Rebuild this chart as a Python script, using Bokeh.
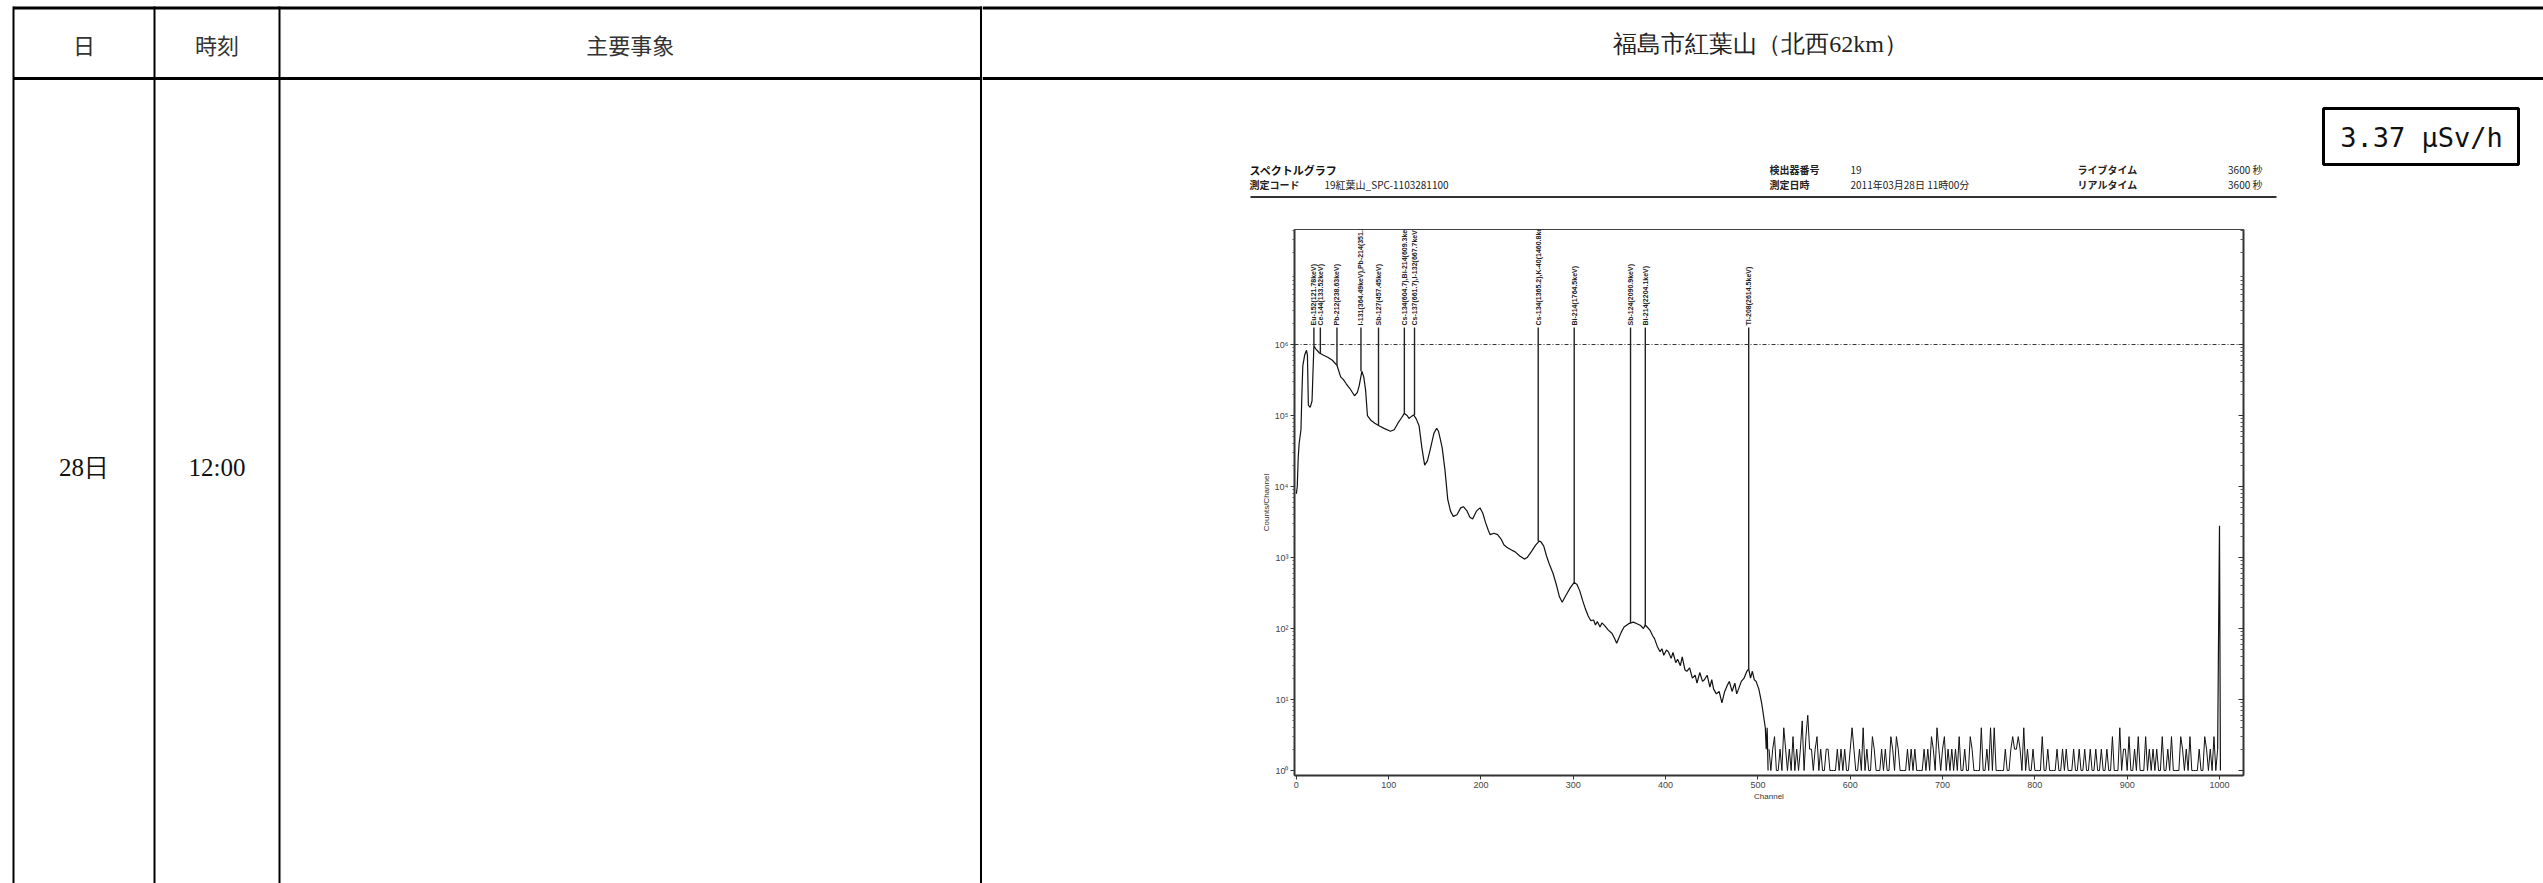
import math
from bokeh.plotting import figure
from bokeh.layouts import row, column
from bokeh.models import ColumnDataSource, Range1d, FixedTicker, LogAxis, Span, LabelSet
from bokeh.core.properties import value
from bokeh.embed import file_html
from bokeh.resources import INLINE

# ---------------- table texts ----------------
header_labels = ["日", "時刻", "主要事象", "福島市紅葉山（北西62km）"]
day_label = "28日"
time_label = "12:00"
dose_label = "3.37 μSv/h"

# ---------------- spectrum sheet texts ----------------
spec_title = "スペクトルグラフ"
info_keys = ["測定コード", "検出器番号", "測定日時", "ライブタイム", "リアルタイム"]
info_vals = ["19紅葉山_SPC-1103281100", "19", "2011年03月28日 11時00分", "3600 秒", "3600 秒"]

x_ticks = [0, 100, 200, 300, 400, 500, 600, 700, 800, 900, 1000]
y_ticks = [1, 10, 100, 1000, 10000, 100000, 1000000]
y_tick_labels = ["10⁰", "10¹", "10²", "10³", "10⁴", "10⁵", "10⁶"]
x_axis_title = "Channel"
y_axis_title = "Counts/Channel"

# ---------------- spectrum values (counts per channel) ----------------
spec_ch = [0, 1, 2, 3, 5, 6, 7, 9, 11, 12,
           13, 15, 17, 18, 19, 21, 25, 29, 34, 39,
           44, 48, 51, 54, 58, 63, 66, 68, 71, 73,
           75, 77, 81, 85, 90, 95, 102, 106, 110, 114,
           117, 120, 122, 125, 127, 130, 133, 136, 139, 142,
           145, 149, 152, 154, 156, 158, 161, 164, 167, 170,
           174, 178, 181, 185, 188, 191, 195, 199, 202, 205,
           208, 210, 214, 218, 222, 225, 228, 232, 237, 242,
           247, 250, 255, 259, 263, 265, 268, 271, 274, 278,
           282, 285, 288, 290, 293, 297, 301, 304, 307, 310,
           313, 316, 319, 322, 324, 326, 329, 331, 334, 338,
           342, 345, 347, 349, 352, 355, 360, 365, 369, 373,
           376, 378, 380, 383, 386, 388, 391, 394, 396, 398,
           401, 403, 406, 408, 411, 413, 416, 418, 421, 423,
           426, 429, 432, 434, 437, 440, 442, 445, 448, 450,
           452, 455, 458, 461, 464, 467, 469, 472, 475, 477,
           479, 482, 485, 488, 490, 492, 494, 496, 498, 501,
           504, 506, 508, 509, 510, 511]
spec_cnt = [7.9e3, 1.0e4, 2.5e4, 4.0e4, 6.3e4, 2.0e5, 5.0e5, 7.1e5, 8.3e5, 7.1e5,
            1.4e5, 1.3e5, 1.6e5, 4.0e5, 9.6e5, 8.7e5, 7.6e5, 7.1e5, 6.6e5, 6.0e5,
            5.1e5, 3.5e5, 3.2e5, 2.8e5, 2.4e5, 1.9e5, 2.1e5, 2.6e5, 4.2e5, 3.5e5,
            2.3e5, 1.0e5, 8.5e4, 7.8e4, 7.1e4, 6.6e4, 6.0e4, 6.3e4, 7.8e4, 9.3e4,
            1.07e5, 1.0e5, 9.1e4, 9.8e4, 1.02e5, 8.9e4, 7.1e4, 3.5e4, 2.0e4, 2.3e4,
            3.3e4, 5.6e4, 6.6e4, 6.0e4, 4.6e4, 3.5e4, 1.7e4, 6.6e3, 4.5e3, 3.8e3,
            4.0e3, 5.0e3, 5.2e3, 4.5e3, 3.7e3, 3.5e3, 4.5e3, 5.0e3, 4.2e3, 3.1e3,
            2.4e3, 2.1e3, 2.2e3, 2.1e3, 1.8e3, 1.5e3, 1.4e3, 1.3e3, 1.2e3, 1.05e3,
            950, 1000, 1230, 1480, 1700, 1660, 1450, 1050, 810, 600,
            400, 280, 235, 263, 309, 380, 447, 417, 339, 251,
            191, 151, 129, 132, 112, 126, 105, 120, 110, 95,
            85, 71, 62, 72, 89, 105, 117, 123, 117, 110,
            100, 112, 105, 95, 79, 72, 56, 47, 52, 42,
            50, 47, 38, 46, 33, 37, 30, 40, 26, 25,
            28, 20, 22, 17, 24, 18, 19, 22, 15, 19,
            14, 12, 13, 9, 13, 16, 18, 13, 17, 12,
            14, 18, 20, 25, 27, 20, 25, 19, 18, 14,
            9, 6, 4, 2, 4, 1]

# channels 512..998, every second channel
noise_start, noise_step = 512, 2
noise_cnt = [2, 1, 2, 3, 1, 1, 2, 1, 4, 2, 1, 2, 1, 3, 1, 2, 1, 2, 5, 1, 3, 6, 2, 2, 1,
             2, 3, 1, 2, 1, 1, 2, 2, 1, 1, 1, 1, 2, 1, 2, 1, 2, 1, 1, 2, 4, 2, 1, 1, 2,
             1, 4, 1, 2, 1, 1, 3, 2, 1, 1, 1, 2, 1, 2, 1, 1, 3, 2, 1, 3, 2, 1, 1, 1, 1,
             2, 1, 2, 1, 2, 1, 1, 1, 1, 2, 1, 2, 1, 3, 2, 1, 4, 2, 1, 2, 3, 1, 2, 1, 2,
             1, 2, 1, 3, 1, 1, 2, 1, 1, 3, 2, 1, 1, 1, 1, 4, 1, 1, 2, 1, 4, 1, 4, 1, 1,
             1, 1, 1, 2, 1, 1, 2, 3, 2, 2, 3, 2, 1, 4, 1, 2, 1, 1, 2, 1, 1, 1, 1, 3, 1,
             1, 2, 1, 1, 1, 1, 2, 1, 1, 2, 1, 2, 1, 1, 1, 2, 1, 1, 2, 1, 1, 2, 1, 1, 2,
             1, 1, 2, 1, 1, 2, 1, 1, 2, 1, 1, 3, 1, 1, 1, 4, 1, 2, 2, 1, 3, 1, 1, 2, 1,
             3, 1, 1, 1, 3, 1, 2, 1, 2, 1, 2, 1, 1, 3, 1, 1, 2, 1, 3, 1, 1, 1, 1, 3, 2,
             1, 2, 1, 3, 1, 1, 1, 1, 2, 1, 1, 3, 2, 1, 2, 1, 3, 1, 2]
spike_ch = [998, 999, 1000, 1001]
spike_cnt = [2, 85, 2800, 1]

# identified peaks
peak_ch = [19, 26, 44, 70, 89, 117, 128, 262, 301, 362, 378, 490]
peak_cnt = [9.6e5, 7.6e5, 5.1e5, 4.2e5, 7.1e4, 1.07e5, 1.02e5, 1.7e3, 447, 120, 110, 27]
peak_names = ["Eu-152(121.78keV)", "Ce-144(133.52keV)", "Pb-212(238.63keV)",
              "I-131(364.49keV),Pb-214(351.9)", "Sb-127(457.45keV)",
              "Cs-134(604.7),Bi-214(609.3keV)", "Cs-137(661.7),I-132(667.7keV)",
              "Cs-134(1365.2),K-40(1460.8keV)", "Bi-214(1764.5keV)",
              "Sb-124(2090.9keV)", "Bi-214(2204.1keV)", "Tl-208(2614.5keV)"]

# ---------------- layout constants (page pixels) ----------------
W, H = 2543, 883
TOP_B = 200          # bottom of the top-right strip
SPLIT_X = 982        # left table block / right block split
COL_X = [13, 154, 279, 980.5]
JP = value("Noto Sans CJK JP")
SERIF = value("Liberation Serif")


def blank(x0, x1, y0, y1):
    p = figure(width=int(x1 - x0), height=int(y1 - y0),
               x_range=Range1d(x0, x1), y_range=Range1d(y1, y0),
               output_backend="svg", toolbar_location=None, title_location=None,
               x_axis_location=None, y_axis_location=None, min_border=0)
    p.outline_line_color = None
    p.grid.visible = False
    p.background_fill_color = "white"
    p.border_fill_color = "white"
    return p


# ---- left block: first three columns, full height
lf = blank(0, SPLIT_X, 0, H)
lf.segment(x0=[COL_X[0]] * 2, y0=[7.5, 78], x1=[SPLIT_X] * 2, y1=[7.5, 78],
           line_color="black", line_width=3)
lf.segment(x0=COL_X, y0=[6] * 4, x1=COL_X, y1=[H] * 4,
           line_color="black", line_width=2)
lf.text(x=[(COL_X[0] + COL_X[1]) / 2, (COL_X[1] + COL_X[2]) / 2, (COL_X[2] + COL_X[3]) / 2],
        y=[43] * 3, text=header_labels[:3], text_font=JP, text_font_size="22px",
        text_align="center", text_baseline="middle", text_color="#333")
lf.text(x=[(COL_X[0] + COL_X[1]) / 2, (COL_X[1] + COL_X[2]) / 2], y=[467, 467],
        text=[day_label, time_label], text_font=SERIF, text_font_size="25px",
        text_align="center", text_baseline="middle", text_color="#111")

# ---- top right strip: header cell + spectrum sheet heading
top = blank(SPLIT_X, W, 0, TOP_B)
top.segment(x0=[SPLIT_X] * 2, y0=[7.5, 78], x1=[W] * 2, y1=[7.5, 78],
            line_color="black", line_width=3)
top.text(x=[1760], y=[43], text=header_labels[3:], text_font=SERIF, text_font_size="24px",
         text_align="center", text_baseline="middle", text_color="#222")

top.text(x=[1249], y=[169], text=[spec_title], text_font=JP, text_font_size="11px",
         text_font_style="bold", text_baseline="middle", text_color="#111")
top.text(x=[1249, 1769, 1769, 2077, 2077], y=[184, 169, 184, 169, 184], text=info_keys,
         text_font=JP, text_font_size="10px", text_font_style="bold",
         text_baseline="middle", text_color="#222")
top.text(x=[1324, 1850, 1850], y=[184, 169, 184], text=info_vals[:3],
         text_font=JP, text_font_size="10px", text_baseline="middle", text_color="#222")
top.text(x=[2262, 2262], y=[169, 184], text=info_vals[3:], text_font=JP,
         text_font_size="10px", text_align="right", text_baseline="middle", text_color="#222")
top.segment(x0=[1250], y0=[196.5], x1=[2276], y1=[196.5], line_color="#333", line_width=2)
top.quad(left=[2323], right=[2518], top=[108], bottom=[164], fill_color=None,
         line_color="black", line_width=3)
top.text(x=[2421], y=[137], text=[dose_label], text_font=value("DejaVu Sans Mono"),
         text_font_size="27px", text_align="center", text_baseline="middle", text_color="#111")

# ---- spectrum chart
FR_L, FR_R, FR_T, FR_B = 1294, 2243, 229, 775
sp = figure(width=W - SPLIT_X, height=H - TOP_B,
            x_range=Range1d(-2, 1026), y_range=Range1d(10 ** -0.07, 10 ** 7.62),
            y_axis_type="log", output_backend="svg", toolbar_location=None,
            title_location=None,
            min_border_left=FR_L - SPLIT_X, min_border_right=W - FR_R,
            min_border_top=FR_T - TOP_B, min_border_bottom=H - FR_B)
sp.background_fill_color = "white"
sp.border_fill_color = "white"
sp.outline_line_color = "#444"
sp.outline_line_width = 1
sp.grid.visible = False

minor = [m * 10 ** e for e in range(0, 8) for m in range(2, 10)]
sp.xaxis.ticker = FixedTicker(ticks=x_ticks)
sp.yaxis.ticker = FixedTicker(ticks=y_ticks, minor_ticks=minor)
sp.yaxis.major_label_overrides = {t: lab for t, lab in zip(y_ticks, y_tick_labels)}
for ax in (sp.xaxis[0], sp.yaxis[0]):
    ax.axis_line_color = "#333"
    ax.axis_line_width = 2
    ax.major_tick_line_color = "#333"
    ax.major_tick_out = 4
    ax.major_tick_in = 0
    ax.major_label_text_font = "Liberation Sans"
    ax.major_label_text_font_size = "9px"
    ax.major_label_text_color = "#444"
    ax.major_label_standoff = 2
    ax.axis_label_text_font = "Liberation Sans"
    ax.axis_label_text_font_size = "8px"
    ax.axis_label_text_font_style = "normal"
    ax.axis_label_text_color = "#333"
    ax.axis_label_standoff = 1
sp.xaxis.minor_tick_line_color = None
sp.xaxis.axis_label = x_axis_title
sp.yaxis.axis_label = y_axis_title
sp.yaxis.minor_tick_out = 2
sp.yaxis.minor_tick_in = 0
sp.yaxis.minor_tick_line_color = "#555"

ra = LogAxis(ticker=FixedTicker(ticks=y_ticks, minor_ticks=minor),
             major_label_text_font_size="2px", major_label_text_alpha=0,
             major_tick_in=5, major_tick_out=0,
             minor_tick_in=3, minor_tick_out=0, axis_line_color="#333", axis_line_width=2,
             major_tick_line_color="#333", minor_tick_line_color="#555")
sp.add_layout(ra, "right")

sp.add_layout(Span(location=1e6, dimension="width", line_color="#333",
                   line_dash="4 2 1 2", line_width=1))

sp.line(spec_ch, spec_cnt, line_color="#111", line_width=1.2)
noise_ch = [noise_start + noise_step * i for i in range(len(noise_cnt))]
sp.line(noise_ch, noise_cnt, line_color="#111", line_width=1)
sp.line(spike_ch, spike_cnt, line_color="#111", line_width=1.2)

label_base = 10 ** 6.24
sp.segment(x0=peak_ch, y0=peak_cnt, x1=peak_ch, y1=[label_base] * len(peak_ch),
           line_color="#222", line_width=1.4)
lsrc = ColumnDataSource(dict(x=peak_ch, y=[label_base] * len(peak_ch), t=peak_names))
sp.add_layout(LabelSet(x="x", y="y", text="t", source=lsrc, angle=math.pi / 2,
                       text_align="left", text_baseline="middle", y_offset=2,
                       text_font_size="7px", text_font=value("Liberation Sans"),
                       text_font_style="bold", text_color="#222"))

page = row(lf, column(top, column(sp)))
open("out.html", "w").write(file_html(page, INLINE))
